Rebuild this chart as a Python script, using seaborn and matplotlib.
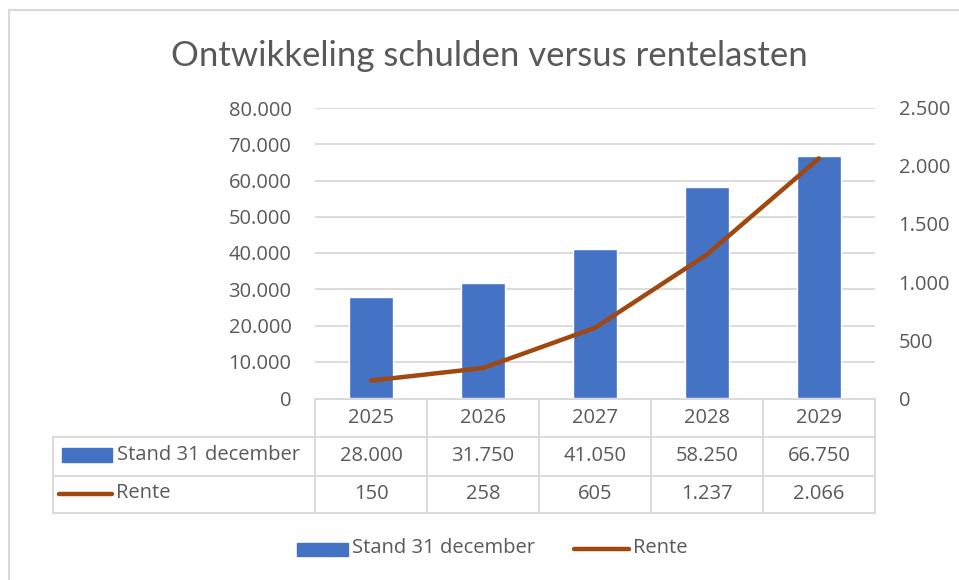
import numpy as np
import pandas as pd
import seaborn as sns
import matplotlib.pyplot as plt
from matplotlib.lines import Line2D
from matplotlib.patches import Rectangle
from matplotlib.transforms import blended_transform_factory

# data
years = ['2025', '2026', '2027', '2028', '2029']
schuld = [28000, 31750, 41050, 58250, 66750]   # Stand 31 december
rente = [150, 258, 605, 1237, 2066]            # Rente
schuld_ticks = [0, 10000, 20000, 30000, 40000, 50000, 60000, 70000, 80000]
rente_ticks = [0, 500, 1000, 1500, 2000, 2500]
title = 'Ontwikkeling schulden versus rentelasten'
label_bar = 'Stand 31 december'
label_line = 'Rente'

blue = '#4472C4'
brown = '#A0480F'
txt = '#595959'
grid = '#D9D9D9'


def nl(v):
    # dutch thousands separator
    return f'{v:,.0f}'.replace(',', '.')


sns.set_style('white')
plt.rcParams['font.family'] = ['Open Sans', 'DejaVu Sans']

W, H = 959, 580
fig = plt.figure(figsize=(W / 100, H / 100), dpi=100)


def fx(px):
    return px / W


def fy(py):
    return (H - py) / H


ax = fig.add_axes([fx(315), fy(398), fx(875) - fx(315), fy(108) - fy(398)])
df = pd.DataFrame({'jaar': years, 'schuld': schuld, 'rente': rente})
sns.barplot(data=df, x='jaar', y='schuld', color=blue, saturation=1,
            width=0.39, ax=ax, zorder=3)
ax.set_xlim(-0.5, len(years) - 0.5)
ax.set_ylim(0, schuld_ticks[-1])
ax.set_yticks(schuld_ticks)
ax.set_yticklabels([nl(t) for t in schuld_ticks])
ax.set_xticks([])
ax.set_xlabel('')
ax.set_ylabel('')
for t in schuld_ticks[1:]:
    ax.axhline(t, color=grid, lw=1.3, zorder=0)
fs = 14.5
ax.tick_params(axis='y', length=0, pad=17, labelsize=fs, labelcolor=txt)
for s in ax.spines.values():
    s.set_visible(False)

ax2 = ax.twinx()
sns.lineplot(x=np.arange(len(years)), y=rente, color=brown, lw=3.2,
             solid_capstyle='round', ax=ax2, zorder=4)
ax2.set_ylim(0, rente_ticks[-1])
ax2.set_yticks(rente_ticks)
ax2.set_yticklabels([nl(t) for t in rente_ticks])
ax2.tick_params(axis='y', length=0, pad=17, labelsize=fs, labelcolor=txt)
ax2.set_ylabel('')
for s in ax2.spines.values():
    s.set_visible(False)

# data table below the plot
tr = blended_transform_factory(ax.transData, fig.transFigure)
lw_t = 1.4
n = len(years)
fig.add_artist(Line2D([-0.5, n - 0.5], [fy(399), fy(399)], transform=tr,
                      color=grid, lw=lw_t))
for py in [437, 476, 513]:
    fig.add_artist(Line2D([fx(53), fx(875)], [fy(py), fy(py)],
                          transform=fig.transFigure, color=grid, lw=lw_t))
fig.add_artist(Line2D([fx(53), fx(53)], [fy(437), fy(513)],
                      transform=fig.transFigure, color=grid, lw=lw_t))
for b in np.arange(n + 1) - 0.5:
    fig.add_artist(Line2D([b, b], [fy(399), fy(513)], transform=tr,
                          color=grid, lw=lw_t))

for i in range(n):
    fig.text(i, fy(418), years[i], transform=tr, ha='center', va='center',
             fontsize=fs, color=txt)
    fig.text(i, fy(456), nl(schuld[i]), transform=tr, ha='center',
             va='center', fontsize=fs, color=txt)
    fig.text(i, fy(494), nl(rente[i]), transform=tr, ha='center',
             va='center', fontsize=fs, color=txt)

# table row keys
fig.add_artist(Rectangle((fx(62), fy(462)), fx(112) - fx(62), fy(448) - fy(462),
                         transform=fig.transFigure, color=blue))
fig.text(fx(117), fy(455), label_bar, ha='left', va='center', fontsize=fs,
         color=txt)
fig.add_artist(Line2D([fx(59), fx(112)], [fy(494), fy(494)],
                      transform=fig.transFigure, color=brown, lw=3.2,
                      solid_capstyle='round'))
fig.text(fx(116), fy(493), label_line, ha='left', va='center', fontsize=fs,
         color=txt)

# bottom legend
fig.add_artist(Rectangle((fx(297), fy(556)), fx(348) - fx(297), fy(543) - fy(556),
                         transform=fig.transFigure, color=blue))
fig.text(fx(352), fy(548), label_bar, ha='left', va='center', fontsize=fs,
         color=txt)
fig.add_artist(Line2D([fx(574), fx(629)], [fy(549), fy(549)],
                      transform=fig.transFigure, color=brown, lw=3.2,
                      solid_capstyle='round'))
fig.text(fx(633), fy(548), label_line, ha='left', va='center', fontsize=fs,
         color=txt)

# title
fig.text(fx(489), fy(56), title, ha='center', va='center', fontsize=25,
         color=txt, family=['Lato', 'DejaVu Sans'])

# outer chart border (only top and left visible in the crop)
fig.add_artist(Line2D([fx(8.5), 1], [fy(9.5), fy(9.5)],
                      transform=fig.transFigure, color=grid, lw=1.5))
fig.add_artist(Line2D([fx(8.5), fx(8.5)], [fy(9.5), 0],
                      transform=fig.transFigure, color=grid, lw=1.5))

fig.savefig('out.png', dpi=100, facecolor='white')
